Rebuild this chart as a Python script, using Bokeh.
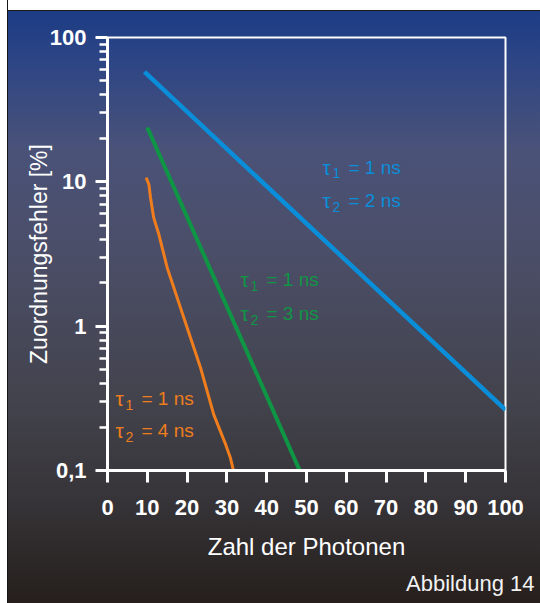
from bokeh.plotting import figure
from bokeh.models import Range1d, FixedTicker, Title
from bokeh.core.properties import value
from bokeh.embed import file_html
from bokeh.resources import INLINE

# ---- data ----
x_ticks = [0, 10, 20, 30, 40, 50, 60, 70, 80, 90, 100]
y_ticks = [0.1, 1, 10, 100]
y_tick_labels = ["0,1", "1", "10", "100"]
y_minor_ticks = [0.2, 0.3, 0.4, 0.5, 0.6, 0.7, 0.8, 0.9,
                 2, 3, 4, 5, 6, 7, 8, 9,
                 20, 30, 40, 50, 60, 70, 80, 90]

blue_x = [9.3, 100.0]
blue_y = [57.8, 0.263]
green_x = [10.0, 48.3]
green_y = [23.8, 0.1]
orange_x = [9.7, 10.4, 10.8, 11.6, 12.9, 15.0, 19.2, 23.4, 26.7, 29.7, 30.9, 31.6]
orange_y = [10.7, 9.6, 7.8, 5.65, 4.33, 2.54, 1.14, 0.513, 0.244, 0.151, 0.122, 0.101]

label_x = [54.0, 54.0, 33.4, 33.4, 2.0, 2.0]
label_y = [12.6, 7.41, 2.10, 1.22, 0.315, 0.189]
label_sub = ["1", "2", "1", "2", "1", "2"]
label_rest = ["= 1 ns", "= 2 ns", "= 1 ns", "= 3 ns", "= 1 ns", "= 4 ns"]

caption_text = "Abbildung 14"

BLUE = "#0a8ed9"
GREEN = "#0f9645"
ORANGE = "#f07d1c"
label_color = [BLUE, BLUE, GREEN, GREEN, ORANGE, ORANGE]

FONT = "Liberation Sans"

p = figure(width=540, height=603, output_backend="svg", toolbar_location=None,
           y_axis_type="log",
           x_range=Range1d(0, 100), y_range=Range1d(0.1, 100),
           min_border_left=107, min_border_right=35,
           min_border_top=37, min_border_bottom=133)

p.border_fill_alpha = 0
p.background_fill_alpha = 0
p.outline_line_color = "white"
p.outline_line_width = 2
p.styles = {
    "background": "linear-gradient(to bottom, #ffffff 0px, #ffffff 10px, #1a1a1a 10px, #1a1a1a 11px, "
                  "#1c3c84 11px, #2d4585 60px, #4a5278 150px, #4b4e68 250px, #43434d 400px, "
                  "#363438 500px, #261f1c 603px)",
    "box-shadow": "inset 7px 0 0 #ffffff, inset 8px 0 0 #151515",
}

p.xgrid.visible = False
p.ygrid.visible = False

# axes
for ax in (p.xaxis, p.yaxis):
    ax.axis_line_color = "white"
    ax.axis_line_width = 3
    ax.major_tick_line_color = "white"
    ax.major_tick_line_width = 3
    ax.major_tick_in = 0
    ax.major_tick_out = 12
    ax.major_label_text_color = "white"
    ax.major_label_text_font = FONT
    ax.major_label_text_font_style = "bold"
    ax.major_label_text_font_size = "22px"
    ax.axis_label_text_color = "white"
    ax.axis_label_text_font = FONT
    ax.axis_label_text_font_style = "normal"

p.xaxis.ticker = FixedTicker(ticks=x_ticks)
p.xaxis.minor_tick_line_color = None
p.xaxis.major_label_standoff = 17
p.xaxis.axis_label = "Zahl der Photonen"
p.xaxis.axis_label_text_font_size = "24px"
p.xaxis.axis_label_standoff = 15

p.yaxis.ticker = FixedTicker(ticks=y_ticks, minor_ticks=y_minor_ticks)
p.yaxis.major_label_overrides = dict(zip(y_ticks, y_tick_labels))
p.yaxis.minor_tick_line_color = "white"
p.yaxis.minor_tick_line_width = 2.5
p.yaxis.minor_tick_in = 0
p.yaxis.minor_tick_out = 8
p.yaxis.major_label_standoff = 9
p.yaxis.axis_label = "Zuordnungsfehler [%]"
p.yaxis.axis_label_text_font_size = "23px"
p.yaxis.axis_label_standoff = -5

# curves
p.line(blue_x, blue_y, line_color=BLUE, line_width=4.5)
p.line(green_x, green_y, line_color=GREEN, line_width=4)
p.line(orange_x, orange_y, line_color=ORANGE, line_width=3)

# labels: tau, subscript, rest
src = dict(x=label_x, y=label_y, sub=label_sub, rest=label_rest, color=label_color,
           tau=["τ"] * len(label_x))
p.text(x="x", y="y", text="tau", source=src, text_color="color",
       text_font=value(FONT), text_font_size="21px", text_baseline="middle", text_align="left")
p.text(x="x", y="y", text="sub", source=src, text_color="color", x_offset=10, y_offset=6,
       text_font=value(FONT), text_font_size="14px", text_baseline="middle", text_align="left")
p.text(x="x", y="y", text="rest", source=src, text_color="color", x_offset=26,
       text_font=value(FONT), text_font_size="19px", text_baseline="middle", text_align="left")

# caption at the lower right
cap = Title(text=caption_text, align="right", offset=-29, standoff=13,
            text_color="#f2f2f2", text_font=FONT, text_font_size="22px",
            text_font_style="normal")
p.add_layout(cap, "below")

open("out.html", "w").write(file_html(p, INLINE))
